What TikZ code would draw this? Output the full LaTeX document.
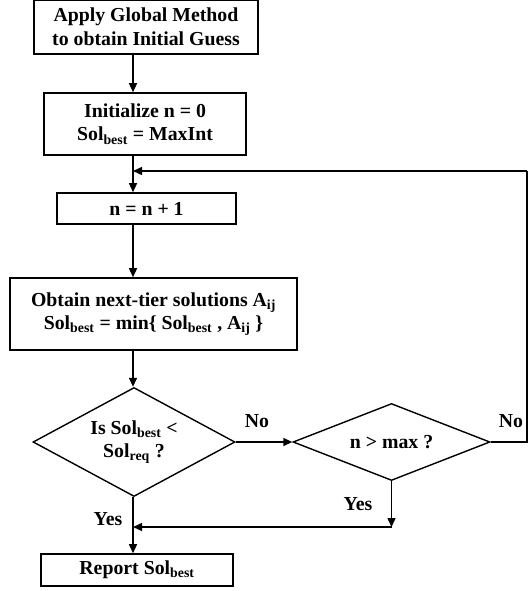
\documentclass[tikz,border=0pt]{standalone}
\usepackage{fontspec}
\setmainfont{Liberation Serif}
\usetikzlibrary{shapes.geometric,arrows.meta}
\newcommand{\sbs}[1]{\textsubscript{#1}}
\begin{document}
\begin{tikzpicture}[x=1pt,y=-1pt,
  every node/.style={font=\fontsize{19.8}{23.5}\selectfont\bfseries},
  box/.style={draw, line width=1.6pt, align=center, inner sep=0pt},
  dia/.style={draw, diamond, line width=1.4pt, align=center, inner sep=0pt, aspect=2},
  arr/.style={line width=1.4pt, -{Triangle[length=9pt,width=8pt]}},
  ln/.style={line width=1.4pt}]
\useasboundingbox (0,0) rectangle (528,591);
\coordinate (spine) at (133,0);
\node[box, minimum width=224pt, minimum height=54pt] (b1) at (146,27) {Apply Global Method\\to obtain Initial Guess};
\node[box, minimum width=202pt, minimum height=62pt] (b2) at (145,124) {Initialize n = 0\\Sol\sbs{best} = MaxInt};
\node[box, minimum width=179pt, minimum height=31pt] (b3) at (146.5,208.5) {n = n + 1};
\node[box, minimum width=287pt, minimum height=72pt] (b4) at (153.5,314) {Obtain next-tier solutions A\sbs{ij}\\Sol\sbs{best} = min\{ Sol\sbs{best} , A\sbs{ij} \}};
\node[dia, minimum width=202pt, minimum height=109pt] (d1) at (134,442) {Is Sol\sbs{best} <\\Sol\sbs{req} ?};
\node[dia, minimum width=197pt, minimum height=77pt] (d2) at (391.5,442) {n > max ?};
\node[box, minimum width=192pt, minimum height=32pt] (b5) at (137,570) {Report Sol\sbs{best}};
\node (lno1) at (257,421) {No};
\node (lno2) at (511,421) {No};
\node (lyes2) at (358,504) {Yes};
\node (lyes1) at (108,519) {Yes};
\coordinate (fbj) at (133,171);
\coordinate (fbr) at (527,171);
\coordinate (rr) at (527,442);
\coordinate (yj) at (391.5,527);
\coordinate (yl) at (133,527);
\draw[arr] (b1.south -| spine) -- (b2.north -| spine);
\draw[arr] (b2.south -| spine) -- (b3.north -| spine);
\draw[arr] (b3.south -| spine) -- (b4.north -| spine);
\draw[arr] (b4.south -| spine) -- (d1.north -| spine);
\draw[arr] (d1.east) -- (d2.west);
\draw[ln] (d2.east) -- (rr) -- (fbr);
\draw[arr] (fbr) -- (fbj);
\draw[arr] (d2.south) -- (yj);
\draw[arr] (yj) -- (yl);
\draw[arr] (d1.south -| spine) -- (b5.north -| spine);
\end{tikzpicture}
\end{document}
